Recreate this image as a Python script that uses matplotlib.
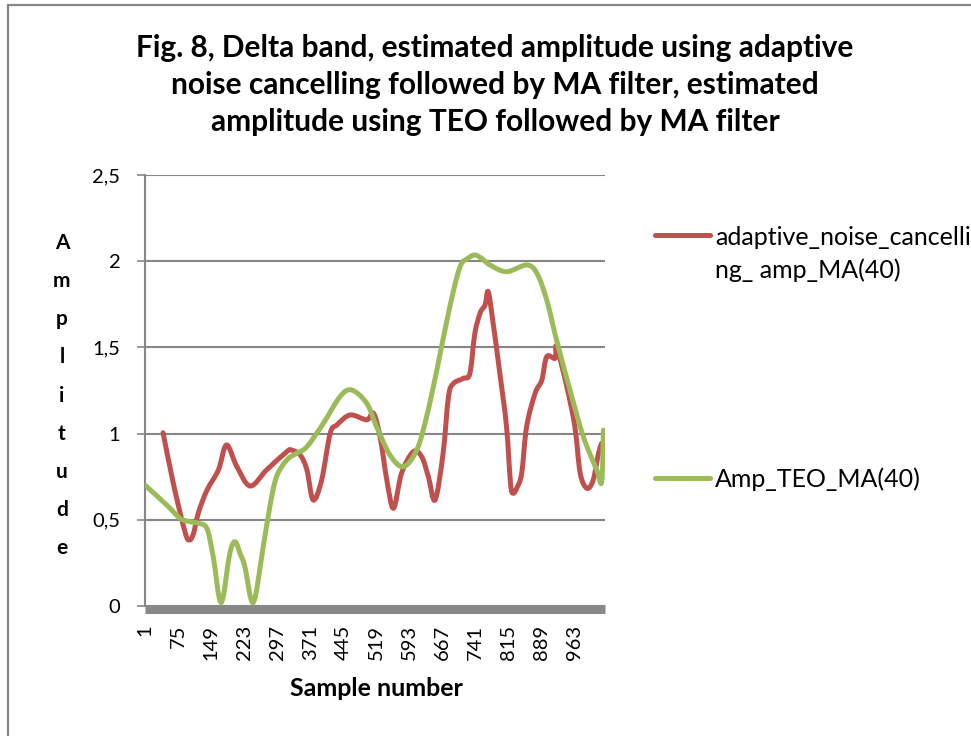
import numpy as np
import matplotlib
matplotlib.use("Agg")
import matplotlib.pyplot as plt
from matplotlib.patches import Rectangle, PathPatch
from matplotlib.path import Path
from matplotlib.lines import Line2D
from matplotlib.legend_handler import HandlerLine2D

# ---------------- data ----------------
title = ("Fig. 8, Delta band, estimated amplitude using adaptive\n"
         "noise cancelling followed by MA filter, estimated\n"
         "amplitude using TEO followed by MA filter")
x_label = "Sample number"
y_label = "Amplitude"
series_names = ["adaptive_noise_cancelli\nng_ amp_MA(40)", "Amp_TEO_MA(40)"]
n_samples = 1030

anc_x = [41, 64, 90, 100, 109, 120, 139, 165, 183, 206, 236, 273, 318, 328, 348, 363,
         377, 396, 415, 430, 460, 497, 512, 527, 542, 557, 575, 601, 620, 635, 650,
         668, 680, 691, 713, 728, 739, 751, 762, 769, 780, 795, 810, 819, 825, 834,
         844, 855, 874, 889, 900, 919, 922, 945, 963, 975, 990, 1004, 1016, 1023]
anc_y = [1.005, 0.71, 0.43, 0.383, 0.42, 0.54, 0.67, 0.79, 0.934, 0.81, 0.696, 0.79,
         0.895, 0.905, 0.876, 0.79, 0.615, 0.73, 1.0, 1.05, 1.108, 1.08, 1.118, 0.98,
         0.73, 0.567, 0.77, 0.895, 0.866, 0.75, 0.615, 0.886, 1.214, 1.29, 1.32, 1.35,
         1.58, 1.70, 1.746, 1.823, 1.64, 1.35, 1.04, 0.71, 0.654, 0.69, 0.77, 1.04,
         1.234, 1.31, 1.446, 1.437, 1.504, 1.272, 1.04, 0.77, 0.683, 0.73, 0.886, 0.944]

teo_x = [1, 49, 79, 101, 120, 139, 153, 171, 190, 202, 214, 224, 243, 265, 280, 295,
         318, 340, 363, 400, 437, 463, 497, 519, 549, 579, 609, 631, 654, 683, 706,
         724, 739, 754, 773, 810, 855, 878, 900, 922, 952, 982, 1012, 1023, 1027]
teo_y = [0.70, 0.586, 0.509, 0.489, 0.48, 0.45, 0.29, 0.02, 0.30, 0.373, 0.30, 0.23,
         0.02, 0.34, 0.576, 0.75, 0.847, 0.886, 0.924, 1.06, 1.214, 1.253, 1.176, 1.04,
         0.876, 0.808, 0.905, 1.098, 1.369, 1.736, 1.968, 2.017, 2.036, 2.017, 1.978,
         1.939, 1.978, 1.93, 1.775, 1.543, 1.253, 0.982, 0.789, 0.721, 1.02]

x_ticks = list(range(1, 964, 74))
y_ticks = [0, 0.5, 1, 1.5, 2, 2.5]
y_tick_labels = ["0", "0,5", "1", "1,5", "2", "2,5"]

# ---------------- style ----------------
W, H = 971, 736
DPI = 100
RED = "#C0504D"
GREEN = "#9BBB59"
GRID = "#868686"
BAR = "#888888"
FONT = "Lato"

plt.rcParams["font.family"] = [FONT, "DejaVu Sans"]

fig = plt.figure(figsize=(W / DPI, H / DPI), dpi=DPI)
fig.patch.set_facecolor("white")

# chart-area border (left and top visible, rest cut off)
fig.patches.append(Rectangle((8 / W, -0.05), 1.1, 1 - 5 / H + 0.05,
                             transform=fig.transFigure, fill=False,
                             edgecolor=GRID, lw=1.6, clip_on=False, zorder=0))


def px2fig_x(px):
    return px / W


def px2fig_y(py):
    return 1 - py / H


def smooth_path(xs, ys):
    """Excel-style smoothed line: cubic Bezier segments through the data points."""
    P = np.column_stack([xs, ys]).astype(float)
    n = len(P)
    verts = [P[0]]
    codes = [Path.MOVETO]
    for i in range(n - 1):
        p0 = P[i - 1] if i > 0 else P[i]
        p1 = P[i]
        p2 = P[i + 1]
        p3 = P[i + 2] if i + 2 < n else P[i + 1]
        verts += [p1 + (p2 - p0) / 6.0, p2 - (p3 - p1) / 6.0, p2]
        codes += [Path.CURVE4] * 3
    return Path(verts, codes)


L, R, T, B = 145, 605, 175, 606
ax = fig.add_axes([L / W, 1 - B / H, (R - L) / W, (B - T) / H])
ax.set_facecolor("none")

lw_series = 3.6
for xs, ys, col in [(anc_x, anc_y, RED), (teo_x, teo_y, GREEN)]:
    ax.add_patch(PathPatch(smooth_path(xs, ys), fill=False, edgecolor=col,
                           lw=lw_series, joinstyle="round", capstyle="round",
                           zorder=3))

ax.set_xlim(0.5, n_samples + 0.5)
ax.set_ylim(0, 2.5)

ax.set_yticks(y_ticks)
ax.set_yticklabels(y_tick_labels)
ax.set_xticks(x_ticks)
ax.set_xticklabels([str(v) for v in x_ticks])

ax.yaxis.grid(True, color=GRID, lw=1.5, zorder=1)
ax.set_axisbelow(True)

for s in ["top", "right"]:
    ax.spines[s].set_visible(False)
ax.spines["left"].set_color(GRID)
ax.spines["left"].set_linewidth(1.5)
ax.spines["bottom"].set_color(BAR)
ax.spines["bottom"].set_linewidth(6.5)
ax.spines["bottom"].set_position(("outward", 2.5))
ax.spines["bottom"].set_capstyle("butt")
ax.spines["bottom"].set_zorder(4)

ax.tick_params(axis="y", length=5.8, width=1.2, color=GRID, pad=12, labelsize=14.5)
ax.tick_params(axis="x", length=0, pad=11, labelsize=14.5, labelrotation=90)

# axis titles
ax.set_xlabel(x_label, fontsize=18, fontweight="bold")
ax.xaxis.set_label_coords((376 - L) / (R - L), (B - 689) / (B - T))
ax.xaxis.label.set_va("center")

ax.set_ylabel("\n".join(y_label), rotation=0, fontsize=15, fontweight="bold",
              linespacing=2.14)
ax.yaxis.set_label_coords((62 - L) / (R - L), (B - 395.5) / (B - T))
ax.yaxis.label.set_va("center")
ax.yaxis.label.set_ha("center")
ax.yaxis.label.set_multialignment("center")

# title
fig.text(px2fig_x(495), px2fig_y(85), title, ha="center", va="center",
         fontsize=21.5, fontweight="bold", linespacing=1.39)


class ShiftedHandler(HandlerLine2D):
    def __init__(self, shift, **kw):
        super().__init__(**kw)
        self.shift = shift

    def create_artists(self, legend, orig_handle, xdescent, ydescent, width,
                       height, fontsize, trans):
        arts = super().create_artists(legend, orig_handle, xdescent, ydescent,
                                      width, height, fontsize, trans)
        for a in arts:
            a.set_ydata(np.asarray(a.get_ydata(), dtype=float) + self.shift)
        return arts


handles = [Line2D([], [], color=RED, lw=lw_series, solid_capstyle="round"),
           Line2D([], [], color=GREEN, lw=lw_series, solid_capstyle="round")]
leg = fig.legend(handles, series_names, loc="upper left",
                 bbox_to_anchor=(px2fig_x(655), px2fig_y(226)),
                 frameon=False, borderpad=0, borderaxespad=0,
                 handlelength=2.2, handletextpad=0.2, labelspacing=7.4,
                 fontsize=18,
                 handler_map={handles[0]: ShiftedHandler(14.4)})
for t in leg.get_texts():
    t.set_linespacing(1.5)

fig.savefig("out.png", dpi=DPI)
